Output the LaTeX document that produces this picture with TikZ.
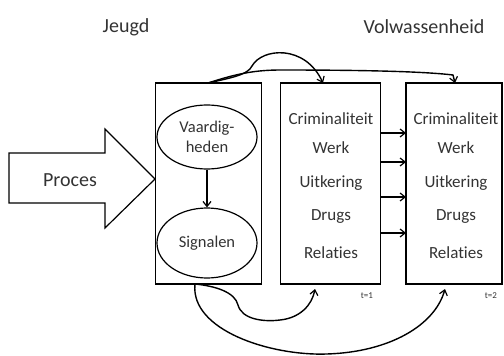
\documentclass[tikz,border=0pt]{standalone}
\usepackage{fontspec}
\setmainfont{Carlito}[Ligatures={NoCommon,NoContextual}]
\usetikzlibrary{arrows.meta,shapes.geometric,shapes.arrows}
\definecolor{txt}{HTML}{333333}
\tikzset{
  conn/.style={line width=1.4pt,black},
  tip/.style={-{Straight Barb[length=5pt,width=8pt,line width=1.2pt]}},
  boxst/.style={draw,line width=1.2pt,inner sep=0pt},
  lbl/.style={text=txt,font=\fontsize{17}{17}\selectfont,inner sep=0pt},
  hdr/.style={text=txt,font=\fontsize{20}{20}\selectfont,inner sep=0pt},
  small/.style={text=txt,font=\fontsize{9}{9}\selectfont,inner sep=0pt},
  ell/.style={draw,ellipse,line width=1.2pt,minimum width=100pt,inner sep=0pt,text=txt,font=\fontsize{16.5}{20}\selectfont,align=center}
}
\begin{document}
\begin{tikzpicture}[x=1pt,y=-1pt]
\useasboundingbox (0,0) rectangle (504,356);
% headers
\node[hdr] (jeugd) at (126,27) {Jeugd};
\node[hdr] (volw) at (424,27) {Volwassenheid};
% process arrow
\draw[line width=1.2pt] (9,153) -- (105,153) -- (105,129) -- (155,179) -- (105,228) -- (105,203) -- (9,203) -- cycle;
\node[lbl,font=\fontsize{20}{20}\selectfont] (proces) at (70,180) {Proces};
% boxes
\node[boxst,minimum width=106pt,minimum height=201pt] (b1) at (208.5,183.5) {};
\node[boxst,minimum width=100pt,minimum height=201pt] (b2) at (330.5,183.5) {};
\node[boxst,minimum width=96pt,minimum height=201pt] (b3) at (454,183.5) {};
% ellipses
\node[ell,minimum height=64pt] (vh) at (207,137) {Vaardig-\\heden};
\node[ell,minimum height=70pt] (sig) at (207,243) {Signalen};
\draw[conn,tip] (vh.south) -- (sig.north);
% box texts
\foreach \t/\y/\n in {Criminaliteit/119/c,Werk/148/w,Uitkering/183/u,Drugs/217/d,Relaties/253/r}{
  \node[lbl] (a\n) at (331,\y) {\t};
  \node[lbl] (b\n) at (456,\y) {\t};
}
\node[small] (t1) at (367,296) {t=1};
\node[small] (t2) at (491,296) {t=2};
% arrows between boxes
\foreach \y/\n in {133/1,162/2,197/3,233/4}{
  \coordinate (s\n) at (381,\y);
  \coordinate (e\n) at (406,\y);
  \draw[conn,tip] (s\n) -- (e\n);
}
% top curves
\coordinate (top1) at (208,83);
\coordinate (top2) at (323,83);
\coordinate (top3) at (455,83);
\draw[conn,tip] (top1) .. controls (230,78) and (248,75) .. (252,66)
  .. controls (262,48) and (305,44) .. (top2);
\draw[conn,tip] (top1) .. controls (230,76) and (250,70) .. (280,70)
  .. controls (350,70) and (420,71) .. (453,75) -- (top3);
% bottom curves
\coordinate (bot1) at (195,284);
\coordinate (bot2) at (315,289);
\coordinate (bot3) at (445,289);
\draw[conn,tip] (bot1) .. controls (215,286) and (235,292) .. (238,305)
  .. controls (242,320) and (265,322) .. (280,320)
  .. controls (300,318) and (312,305) .. (bot2);
\draw[conn,tip] (bot1) .. controls (190,330) and (270,356) .. (327,354)
  .. controls (390,352) and (435,325) .. (bot3);
\end{tikzpicture}
\end{document}
